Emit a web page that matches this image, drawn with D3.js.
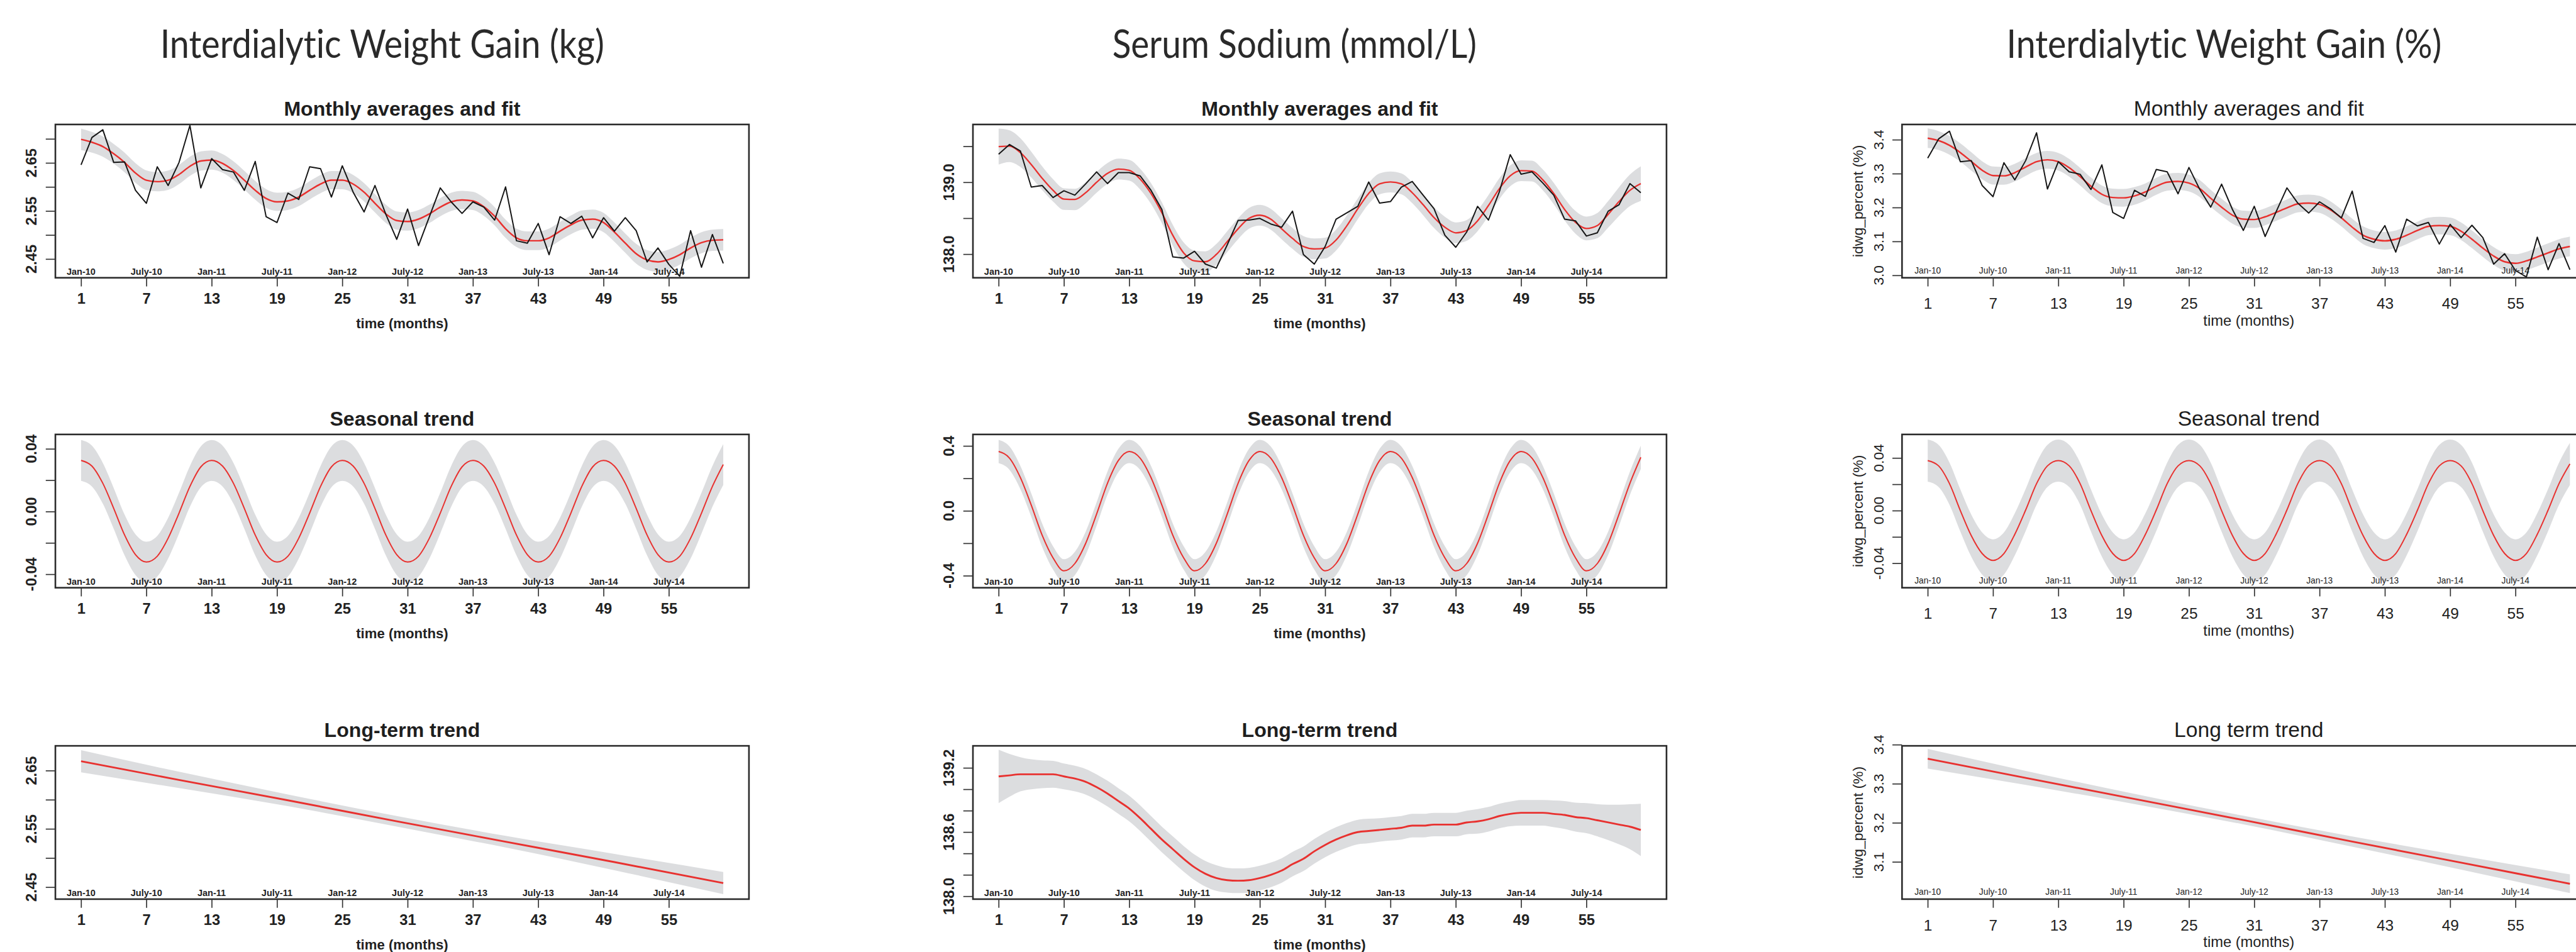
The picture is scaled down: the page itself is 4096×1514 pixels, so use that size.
<!DOCTYPE html>
<html>
<head>
<meta charset="utf-8">
<script src="https://cdn.jsdelivr.net/npm/d3@7"></script>
<style>
  body { margin: 0; background: #fff; }
  svg { display: block; }
</style>
</head>
<body>
<div id="chart"></div>
<script>
// ---------- data ----------
const months = d3.range(1, 61);
const monthTicks = [1, 7, 13, 19, 25, 31, 37, 43, 49, 55];
const monthNames = ["Jan-10", "July-10", "Jan-11", "July-11", "Jan-12", "July-12", "Jan-13", "July-13", "Jan-14", "July-14"];

const titles = ["Interdialytic Weight Gain (kg)", "Serum Sodium (mmol/L)", "Interdialytic Weight Gain (%)"];

// Interdialytic weight gain (kg)
const kgMonthly = [
  2.646, 2.703, 2.719, 2.651, 2.652, 2.593, 2.566, 2.642, 2.603, 2.651,
  2.728, 2.598, 2.659, 2.636, 2.631, 2.593, 2.653, 2.538, 2.526, 2.587,
  2.574, 2.642, 2.638, 2.579, 2.644, 2.589, 2.548, 2.603, 2.543, 2.491,
  2.554, 2.478, 2.538, 2.598, 2.569, 2.545, 2.569, 2.558, 2.531, 2.600,
  2.488, 2.483, 2.524, 2.459, 2.538, 2.524, 2.539, 2.494, 2.536, 2.508,
  2.536, 2.509, 2.444, 2.473, 2.439, 2.414, 2.509, 2.433, 2.501, 2.441];
const kgFit = [
  2.699, 2.693, 2.684, 2.669, 2.651, 2.629, 2.614, 2.611, 2.614, 2.626,
  2.643, 2.654, 2.656, 2.649, 2.634, 2.614, 2.593, 2.576, 2.569, 2.571,
  2.579, 2.593, 2.606, 2.614, 2.614, 2.606, 2.589, 2.566, 2.544, 2.530,
  2.528, 2.533, 2.544, 2.558, 2.569, 2.573, 2.571, 2.559, 2.539, 2.513,
  2.494, 2.488, 2.488, 2.494, 2.508, 2.521, 2.531, 2.533, 2.526, 2.506,
  2.483, 2.461, 2.448, 2.444, 2.449, 2.459, 2.473, 2.484, 2.489, 2.490];
const kgFitHalf = [
  0.0225, 0.0215, 0.021, 0.0205, 0.0205, 0.0205, 0.0205, 0.020, 0.020, 0.020,
  0.020, 0.020, 0.020, 0.0195, 0.0195, 0.0195, 0.0195, 0.0195, 0.019, 0.019,
  0.019, 0.019, 0.019, 0.019, 0.019, 0.019, 0.019, 0.019, 0.019, 0.019,
  0.019, 0.019, 0.019, 0.019, 0.019, 0.019, 0.019, 0.019, 0.019, 0.019,
  0.019, 0.0195, 0.0195, 0.0195, 0.0195, 0.0195, 0.020, 0.020, 0.020, 0.020,
  0.020, 0.0205, 0.0205, 0.0205, 0.021, 0.021, 0.0215, 0.022, 0.0222, 0.0225];
const kgSeasonal = [
  0.0326, 0.0290, 0.0180, 0.0020, -0.0150, -0.0275, -0.0322, -0.0285, -0.0170, -0.0010, 0.0160, 0.0285,
  0.0326, 0.0290, 0.0180, 0.0020, -0.0150, -0.0275, -0.0322, -0.0285, -0.0170, -0.0010, 0.0160, 0.0285,
  0.0326, 0.0290, 0.0180, 0.0020, -0.0150, -0.0275, -0.0322, -0.0285, -0.0170, -0.0010, 0.0160, 0.0285,
  0.0326, 0.0290, 0.0180, 0.0020, -0.0150, -0.0275, -0.0322, -0.0285, -0.0170, -0.0010, 0.0160, 0.0285,
  0.0326, 0.0290, 0.0180, 0.0020, -0.0150, -0.0275, -0.0322, -0.0285, -0.0170, -0.0010, 0.0160, 0.0300];
const kgSeasonalHalf = 0.013;
const kgTrendMonths = [1, 10, 20, 30, 40, 50, 60];
const kgTrend = [2.666, 2.634, 2.599, 2.563, 2.528, 2.493, 2.457];
const kgTrendHalf = [0.019, 0.014, 0.010, 0.009, 0.010, 0.014, 0.019];

// Serum sodium (mmol/L)
const naMonthly = [
  139.391, 139.525, 139.435, 138.933, 138.955, 138.788, 138.882, 138.821, 138.978, 139.145,
  138.982, 139.134, 139.134, 139.089, 138.888, 138.621, 137.962, 137.946, 138.040, 137.862,
  137.806, 138.129, 138.469, 138.475, 138.498, 138.420, 138.375, 138.598, 137.996, 137.862,
  138.107, 138.487, 138.576, 138.665, 139.004, 138.710, 138.732, 138.933, 139.011, 138.821,
  138.632, 138.263, 138.096, 138.308, 138.665, 138.475, 138.866, 139.384, 139.112, 139.145,
  138.989, 138.821, 138.487, 138.464, 138.252, 138.297, 138.598, 138.688, 138.982, 138.855];
const naFit = [
  139.496, 139.502, 139.413, 139.246, 139.056, 138.888, 138.766, 138.761, 138.855, 139.000,
  139.123, 139.183, 139.167, 139.045, 138.844, 138.576, 138.263, 138.018, 137.906, 137.895,
  137.996, 138.174, 138.353, 138.498, 138.542, 138.487, 138.353, 138.219, 138.107, 138.074,
  138.085, 138.196, 138.397, 138.632, 138.844, 138.978, 139.004, 138.978, 138.855, 138.688,
  138.509, 138.375, 138.297, 138.330, 138.464, 138.676, 138.911, 139.089, 139.161, 139.156,
  139.033, 138.844, 138.621, 138.442, 138.357, 138.397, 138.554, 138.732, 138.888, 138.982];
const naFitHalf = [
  0.25, 0.22, 0.20, 0.18, 0.165, 0.155, 0.15, 0.148, 0.146, 0.145,
  0.145, 0.145, 0.145, 0.145, 0.145, 0.145, 0.145, 0.145, 0.145, 0.145,
  0.145, 0.145, 0.145, 0.145, 0.145, 0.145, 0.145, 0.145, 0.145, 0.145,
  0.145, 0.145, 0.145, 0.145, 0.145, 0.145, 0.145, 0.145, 0.145, 0.145,
  0.145, 0.145, 0.145, 0.145, 0.145, 0.145, 0.145, 0.145, 0.145, 0.145,
  0.145, 0.148, 0.152, 0.158, 0.165, 0.175, 0.185, 0.20, 0.22, 0.24];
const naSeasonal = [
  0.366, 0.325, 0.205, 0.035, -0.150, -0.290, -0.370, -0.325, -0.200, -0.020, 0.170, 0.310,
  0.366, 0.325, 0.205, 0.035, -0.150, -0.290, -0.370, -0.325, -0.200, -0.020, 0.170, 0.310,
  0.366, 0.325, 0.205, 0.035, -0.150, -0.290, -0.370, -0.325, -0.200, -0.020, 0.170, 0.310,
  0.366, 0.325, 0.205, 0.035, -0.150, -0.290, -0.370, -0.325, -0.200, -0.020, 0.170, 0.310,
  0.366, 0.325, 0.205, 0.035, -0.150, -0.290, -0.370, -0.325, -0.200, -0.020, 0.170, 0.330];
const naSeasonalHalf = 0.072;
const naTrend = [
  139.12, 139.13, 139.14, 139.14, 139.14, 139.14, 139.12, 139.10, 139.07, 139.02,
  138.96, 138.89, 138.82, 138.73, 138.63, 138.53, 138.44, 138.35, 138.27, 138.21,
  138.17, 138.15, 138.145, 138.15, 138.17, 138.20, 138.24, 138.30, 138.35, 138.42,
  138.48, 138.53, 138.57, 138.60, 138.61, 138.62, 138.63, 138.64, 138.66, 138.66,
  138.67, 138.67, 138.67, 138.69, 138.70, 138.72, 138.75, 138.77, 138.78, 138.78,
  138.78, 138.77, 138.76, 138.74, 138.73, 138.71, 138.69, 138.67, 138.65, 138.62];
const naTrendHalf = [
  0.25, 0.20, 0.16, 0.14, 0.13, 0.125, 0.12, 0.12, 0.12, 0.12,
  0.12, 0.12, 0.12, 0.12, 0.12, 0.12, 0.12, 0.12, 0.12, 0.12,
  0.12, 0.115, 0.115, 0.115, 0.115, 0.115, 0.115, 0.115, 0.115, 0.115,
  0.115, 0.115, 0.115, 0.115, 0.115, 0.11, 0.11, 0.11, 0.11, 0.11,
  0.11, 0.11, 0.11, 0.11, 0.115, 0.115, 0.115, 0.115, 0.12, 0.12,
  0.12, 0.125, 0.13, 0.135, 0.14, 0.15, 0.165, 0.185, 0.21, 0.245];

// Interdialytic weight gain (%)
const pctMonthly = [
  3.3456, 3.4024, 3.4251, 3.3351, 3.3385, 3.2651, 3.2320, 3.3323, 3.2817, 3.3385,
  3.4204, 3.2547, 3.3351, 3.3053, 3.2982, 3.2533, 3.3257, 3.1856, 3.1680, 3.2509,
  3.2329, 3.3124, 3.3053, 3.2405, 3.3181, 3.2533, 3.2012, 3.2689, 3.1941, 3.1325,
  3.2036, 3.1146, 3.1870, 3.2580, 3.2130, 3.1837, 3.2168, 3.1964, 3.1695, 3.2485,
  3.1089, 3.0970, 3.1467, 3.0686, 3.1657, 3.1458, 3.1562, 3.0923, 3.1505, 3.1112,
  3.1477, 3.1112, 3.0331, 3.0639, 3.0142, 2.9953, 3.1127, 3.0166, 3.0937, 3.0166];
const pctFit = [
  3.4047, 3.3976, 3.3834, 3.3621, 3.3361, 3.3101, 3.2944, 3.2935, 3.3030, 3.3195,
  3.3351, 3.3408, 3.3351, 3.3172, 3.2911, 3.2627, 3.2391, 3.2296, 3.2286, 3.2343,
  3.2462, 3.2627, 3.2746, 3.2769, 3.2722, 3.2556, 3.2272, 3.2012, 3.1775, 3.1657,
  3.1647, 3.1728, 3.1856, 3.1988, 3.2107, 3.2130, 3.2092, 3.1931, 3.1695, 3.1420,
  3.1183, 3.1065, 3.1018, 3.1065, 3.1183, 3.1325, 3.1444, 3.1467, 3.1444, 3.1302,
  3.1065, 3.0805, 3.0568, 3.0402, 3.0355, 3.0426, 3.0544, 3.0663, 3.0781, 3.0852];
const pctFitHalf = [
  0.029, 0.028, 0.0275, 0.027, 0.027, 0.0265, 0.0265, 0.026, 0.026, 0.026,
  0.026, 0.026, 0.026, 0.026, 0.026, 0.026, 0.026, 0.026, 0.026, 0.026,
  0.025, 0.025, 0.025, 0.025, 0.025, 0.025, 0.025, 0.025, 0.025, 0.025,
  0.025, 0.025, 0.025, 0.025, 0.025, 0.025, 0.025, 0.025, 0.025, 0.025,
  0.026, 0.026, 0.026, 0.026, 0.026, 0.026, 0.026, 0.026, 0.026, 0.026,
  0.026, 0.026, 0.0265, 0.0265, 0.027, 0.027, 0.0275, 0.028, 0.0285, 0.029];
const pctSeasonal = [
  0.0380, 0.0340, 0.0205, 0.0000, -0.0190, -0.0326, -0.0378, -0.0326, -0.0180, 0.0005, 0.0205, 0.0340,
  0.0380, 0.0340, 0.0205, 0.0000, -0.0190, -0.0326, -0.0378, -0.0326, -0.0180, 0.0005, 0.0205, 0.0340,
  0.0380, 0.0340, 0.0205, 0.0000, -0.0190, -0.0326, -0.0378, -0.0326, -0.0180, 0.0005, 0.0205, 0.0340,
  0.0380, 0.0340, 0.0205, 0.0000, -0.0190, -0.0326, -0.0378, -0.0326, -0.0180, 0.0005, 0.0205, 0.0340,
  0.0380, 0.0340, 0.0205, 0.0000, -0.0190, -0.0326, -0.0378, -0.0326, -0.0180, 0.0005, 0.0205, 0.0355];
const pctSeasonalHalf = 0.016;
const pctTrendMonths = [1, 10, 20, 30, 40, 50, 60];
const pctTrend = [3.364, 3.315, 3.261, 3.207, 3.152, 3.098, 3.044];
const pctTrendHalf = [0.025, 0.018, 0.013, 0.011, 0.013, 0.018, 0.024];

// y axis ticks and their labels ("" = tick without label)
const kgFitTicks = [2.45, 2.50, 2.55, 2.60, 2.65, 2.70];
const kgFitLabels = ["2.45", "", "2.55", "", "2.65", ""];
const kgSeasTicks = [-0.04, -0.02, 0, 0.02, 0.04];
const kgSeasLabels = ["-0.04", "", "0.00", "", "0.04"];
const kgTrendTicks = [2.45, 2.50, 2.55, 2.60, 2.65];
const kgTrendLabels = ["2.45", "", "2.55", "", "2.65"];
const naFitTicks = [138.0, 138.5, 139.0, 139.5];
const naFitLabels = ["138.0", "", "139.0", ""];
const naSeasTicks = [-0.4, -0.2, 0, 0.2, 0.4];
const naSeasLabels = ["-0.4", "", "0.0", "", "0.4"];
const naTrendTicks = [138.0, 138.2, 138.4, 138.6, 138.8, 139.0, 139.2];
const naTrendLabels = ["138.0", "", "", "138.6", "", "", "139.2"];
const pctFitTicks = [3.0, 3.1, 3.2, 3.3, 3.4];
const pctFitLabels = ["3.0", "3.1", "3.2", "3.3", "3.4"];
const pctSeasTicks = [-0.04, -0.02, 0, 0.02, 0.04];
const pctSeasLabels = ["-0.04", "", "0.00", "", "0.04"];
const pctTrendTicks = [3.1, 3.2, 3.3, 3.4];
const pctTrendLabels = ["3.1", "3.2", "3.3", "3.4"];

// ---------- layout (reference pixel space) ----------
const W = 5359, H = 1981;
const boxW = 1443, boxH = 319;
const rowTop = [259, 904, 1552];
const bandColor = "#dcdddf";
const redColor = "#e8312f";
const sans = "'Liberation Sans', Arial, Helvetica, sans-serif";

const svg = d3.select("#chart").append("svg")
  .attr("width", 4096)
  .attr("height", 1514)
  .attr("viewBox", `0 0 ${W} ${H}`);

const x = d3.scaleLinear().domain([-1.36, 62.36]).range([0, boxW]);

const filled = v => months.map(() => v);

const columns = [
  {
    title: titles[0], titleX: 795, titleLen: 924, left: 115, bold: true, yTitle: null,
    rows: [
      { sub: "Monthly averages and fit", m: months, mid: kgFit, half: kgFitHalf, raw: kgMonthly,
        dom: [2.411, 2.730], ticks: kgFitTicks, labels: kgFitLabels, rw: 3.2 },
      { sub: "Seasonal trend", m: months, mid: kgSeasonal, half: filled(kgSeasonalHalf),
        dom: [-0.0486, 0.0492], ticks: kgSeasTicks, labels: kgSeasLabels, rw: 2.6 },
      { sub: "Long-term trend", m: kgTrendMonths, mid: kgTrend, half: kgTrendHalf,
        dom: [2.4294, 2.6925], ticks: kgTrendTicks, labels: kgTrendLabels, rw: 3.8 }
    ]
  },
  {
    title: titles[1], titleX: 2693, titleLen: 758, left: 2024, bold: true, yTitle: null,
    rows: [
      { sub: "Monthly averages and fit", m: months, mid: naFit, half: naFitHalf, raw: naMonthly,
        dom: [137.672, 139.804], ticks: naFitTicks, labels: naFitLabels, rw: 3.0 },
      { sub: "Seasonal trend", m: months, mid: naSeasonal, half: filled(naSeasonalHalf),
        dom: [-0.474, 0.471], ticks: naSeasTicks, labels: naSeasLabels, rw: 2.6 },
      { sub: "Long-term trend", m: months, mid: naTrend, half: naTrendHalf,
        dom: [137.973, 139.406], ticks: naTrendTicks, labels: naTrendLabels, rw: 3.8 }
    ]
  },
  {
    title: titles[2], titleX: 4627, titleLen: 905, left: 3957, bold: false, yTitle: "idwg_percent (%)",
    rows: [
      { sub: "Monthly averages and fit", m: months, mid: pctFit, half: pctFitHalf, raw: pctMonthly,
        dom: [2.9929, 3.445], ticks: pctFitTicks, labels: pctFitLabels, rw: 3.2 },
      { sub: "Seasonal trend", m: months, mid: pctSeasonal, half: filled(pctSeasonalHalf),
        dom: [-0.0586, 0.0579], ticks: pctSeasTicks, labels: pctSeasLabels, rw: 2.6 },
      { sub: "Long term trend", m: pctTrendMonths, mid: pctTrend, half: pctTrendHalf,
        dom: [3.0046, 3.397], ticks: pctTrendTicks, labels: pctTrendLabels, rw: 3.8 }
    ]
  }
];

function drawPanel(col, row, r) {
  const g = svg.append("g").attr("transform", `translate(${col.left},${rowTop[r]})`);
  const y = d3.scaleLinear().domain(row.dom).range([boxH, 0]);
  const weight = col.bold ? "bold" : "normal";
  const pts = row.m.map((m, i) => ({ m: m, v: row.mid[i], h: row.half[i] }));

  // confidence band
  g.append("path")
    .datum(pts)
    .attr("fill", bandColor)
    .attr("d", d3.area()
      .x(d => x(d.m))
      .y0(d => y(d.v - d.h))
      .y1(d => y(d.v + d.h))
      .curve(d3.curveMonotoneX));

  // fitted curve
  g.append("path")
    .datum(pts)
    .attr("fill", "none")
    .attr("stroke", redColor)
    .attr("stroke-width", row.rw)
    .attr("d", d3.line().x(d => x(d.m)).y(d => y(d.v)).curve(d3.curveMonotoneX));

  // monthly averages
  if (row.raw) {
    g.append("path")
      .datum(row.raw)
      .attr("fill", "none")
      .attr("stroke", "#161616")
      .attr("stroke-width", 2.6)
      .attr("stroke-linejoin", "round")
      .attr("d", d3.line().x((d, i) => x(months[i])).y(d => y(d)));
  }

  // box
  g.append("rect")
    .attr("width", boxW).attr("height", boxH)
    .attr("fill", "none").attr("stroke", "#2b2b2b").attr("stroke-width", 3.4);

  // x axis
  const xa = g.append("g")
    .attr("transform", `translate(0,${boxH})`)
    .call(d3.axisBottom(x).tickValues(monthTicks).tickSize(18).tickFormat(d3.format("d")));
  xa.select(".domain").remove();
  xa.selectAll("line").attr("stroke", "#333").attr("stroke-width", 2.2);
  xa.selectAll("text")
    .attr("y", col.bold ? 54 : 65).attr("dy", 0)
    .attr("fill", "#222")
    .style("font-family", sans).style("font-weight", weight)
    .style("font-size", col.bold ? "31px" : "32px");

  // month names inside the box
  g.selectAll("text.mon")
    .data(monthNames)
    .join("text")
    .attr("class", "mon")
    .attr("x", (d, i) => x(monthTicks[i]))
    .attr("y", boxH - (col.bold ? 6 : 9))
    .attr("text-anchor", "middle")
    .attr("fill", "#222")
    .style("font-family", sans).style("font-weight", weight)
    .style("font-size", col.bold ? "19px" : "18px")
    .text(d => d);

  // y axis
  const ya = g.append("g")
    .call(d3.axisLeft(y).tickValues(row.ticks).tickSize(20).tickFormat(() => ""));
  ya.select(".domain").remove();
  ya.selectAll("line").attr("stroke", "#333").attr("stroke-width", 2.2);
  g.selectAll("text.ylab")
    .data(row.labels)
    .join("text")
    .attr("class", "ylab")
    .attr("transform", (d, i) => `translate(-39,${y(row.ticks[i])}) rotate(-90)`)
    .attr("text-anchor", "middle")
    .attr("fill", "#222")
    .style("font-family", sans).style("font-weight", weight)
    .style("font-size", col.bold ? "31px" : "30px")
    .text(d => d);

  if (col.yTitle) {
    g.append("text")
      .attr("transform", `translate(-82,${boxH / 2}) rotate(-90)`)
      .attr("text-anchor", "middle")
      .attr("fill", "#222")
      .style("font-family", sans)
      .style("font-size", "30px")
      .text(col.yTitle);
  }

  // subtitle
  g.append("text")
    .attr("x", boxW / 2)
    .attr("y", -18)
    .attr("text-anchor", "middle")
    .attr("fill", "#1e1e1e")
    .style("font-family", sans).style("font-weight", weight)
    .style("font-size", col.bold ? "42px" : "44px")
    .text(row.sub);

  // x axis title
  g.append("text")
    .attr("x", boxW / 2)
    .attr("y", boxH + (col.bold ? 105 : 100))
    .attr("text-anchor", "middle")
    .attr("fill", "#222")
    .style("font-family", sans).style("font-weight", weight)
    .style("font-size", col.bold ? "29px" : "31px")
    .text("time (months)");
}

columns.forEach(col => {
  svg.append("text")
    .attr("x", col.titleX)
    .attr("y", 120)
    .attr("text-anchor", "middle")
    .attr("textLength", col.titleLen)
    .attr("lengthAdjust", "spacingAndGlyphs")
    .attr("fill", "#2a2a2a")
    .style("font-family", "Lato, 'Open Sans', sans-serif")
    .style("font-variant-ligatures", "none")
    .style("font-size", "80px")
    .text(col.title);

  col.rows.forEach((row, r) => drawPanel(col, row, r));
});
</script>
</body>
</html>
